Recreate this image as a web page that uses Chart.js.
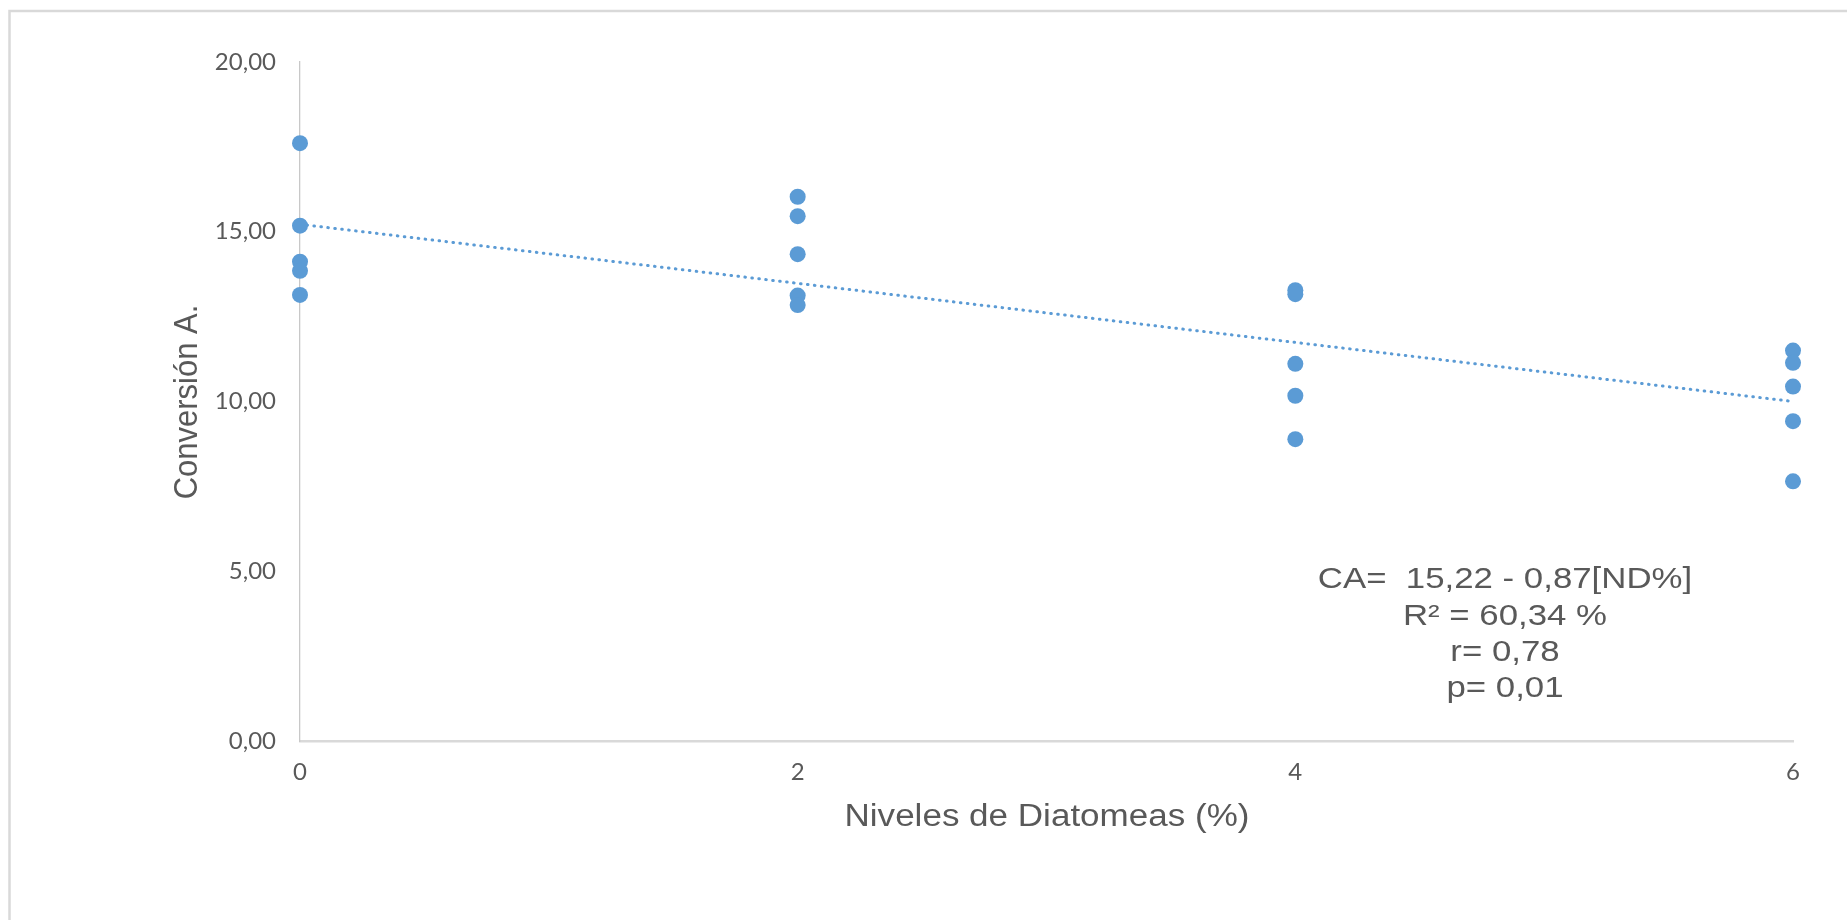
<!DOCTYPE html>
<html>
<head>
<meta charset="utf-8">
<script src="https://cdn.jsdelivr.net/npm/chart.js@4.4.1/dist/chart.umd.min.js"></script>
<style>
  html, body { margin: 0; padding: 0; background: #ffffff; }
  #wrap { width: 1847px; height: 920px; position: relative; }
</style>
</head>
<body>
<div id="wrap"><canvas id="c" width="1847" height="920"></canvas></div>
<script>
// ---- data ----
const diatomLevels = [0, 0, 0, 0, 0, 2, 2, 2, 2, 2, 4, 4, 4, 4, 4, 6, 6, 6, 6, 6];
const conversion = [17.61, 15.18, 14.12, 13.85, 13.14,
                    16.03, 15.46, 14.34, 13.12, 12.84,
                    13.28, 13.16, 11.11, 10.17, 8.89,
                    11.50, 11.14, 10.44, 9.42, 7.65];
const trendIntercept = 15.22;
const trendSlope = -0.87;
const trendRangeX = [0, 6];
const yTickLabels = ['0,00', '5,00', '10,00', '15,00', '20,00'];
const xTickLabels = ['0', '2', '4', '6'];
const xTitle = 'Niveles de Diatomeas (%)';
const yTitle = 'Conversión A.';
const statLines = ['CA=  15,22 - 0,87[ND%]', 'R\u00B2 = 60,34 %', 'r= 0,78', 'p= 0,01'];

const pointData = diatomLevels.map((x, i) => ({ x: x, y: conversion[i] }));
const trendData = trendRangeX.map(x => ({ x: x, y: trendIntercept + trendSlope * x }));

const BLUE = '#5B9BD5';
const TEXT = '#595959';

const decorPlugin = {
  id: 'decor',
  beforeDraw(chart) {
    const ctx = chart.ctx;
    ctx.save();
    ctx.strokeStyle = '#D9D9D9';
    ctx.lineWidth = 2.5;
    ctx.beginPath();
    ctx.moveTo(9.5, 925);
    ctx.lineTo(9.5, 11);
    ctx.lineTo(1850, 11);
    ctx.stroke();
    ctx.restore();
  },
  afterDraw(chart) {
    const ctx = chart.ctx;
    const area = chart.chartArea;
    ctx.save();
    ctx.fillStyle = TEXT;

    // x axis title (slightly widened like the reference)
    ctx.font = '31px "Liberation Sans", Arial, sans-serif';
    ctx.textAlign = 'center';
    ctx.textBaseline = 'alphabetic';
    ctx.save();
    ctx.translate((area.left + area.right) / 2 + 0.5, 826);
    ctx.scale(1.13, 1);
    ctx.fillText(xTitle, 0, 0);
    ctx.restore();

    // y axis title
    ctx.save();
    ctx.translate(197, 402);
    ctx.rotate(-Math.PI / 2);
    ctx.scale(1, 1.08);
    ctx.fillText(yTitle, 0, 0);
    ctx.restore();

    // statistics annotation
    ctx.font = '29px "Liberation Sans", Arial, sans-serif';
    const ys = [588, 625, 661, 697];
    statLines.forEach((t, i) => {
      ctx.save();
      ctx.translate(1505, ys[i]);
      ctx.scale(1.2, 1);
      ctx.fillText(t, 0, 0);
      ctx.restore();
    });
    ctx.restore();
  }
};

new Chart(document.getElementById('c'), {
  type: 'scatter',
  data: {
    datasets: [
      {
        label: 'Conversión A.',
        data: pointData,
        backgroundColor: BLUE,
        borderColor: BLUE,
        pointRadius: 8,
        pointBorderWidth: 0,
        pointHoverRadius: 8,
        clip: false
      },
      {
        label: 'Tendencia',
        type: 'line',
        data: trendData,
        showLine: true,
        borderColor: BLUE,
        borderWidth: 3,
        borderDash: [0.6, 6.4],
        borderCapStyle: 'round',
        pointRadius: 0,
        fill: false,
        clip: false
      }
    ]
  },
  options: {
    responsive: false,
    animation: false,
    events: [],
    layout: { padding: { left: 0, top: 62, right: 54, bottom: 0 } },
    plugins: {
      legend: { display: false },
      tooltip: { enabled: false },
      title: { display: false }
    },
    scales: {
      x: {
        type: 'linear',
        min: 0,
        max: 6,
        afterFit: s => { s.height = 179; },
        afterBuildTicks: s => { s.ticks = xTickLabels.map(v => ({ value: Number(v) })); },
        ticks: {
          padding: 17,
          color: TEXT,
          font: { family: 'Lato', size: 24 },
          callback: (v, i) => xTickLabels[i]
        },
        grid: { display: false, drawTicks: false },
        border: { display: true, color: '#D9D9D9', width: 2.5 }
      },
      y: {
        type: 'linear',
        min: 0,
        max: 20,
        afterFit: s => { s.width = 300; },
        afterBuildTicks: s => { s.ticks = yTickLabels.map((v, i) => ({ value: i * 5 })); },
        ticks: {
          padding: 24,
          color: TEXT,
          font: { family: 'Lato', size: 24 },
          callback: (v, i) => yTickLabels[i]
        },
        grid: { display: false, drawTicks: false },
        border: { display: true, color: '#C8C8C8', width: 1.3 }
      }
    }
  },
  plugins: [decorPlugin]
});
</script>
</body>
</html>
